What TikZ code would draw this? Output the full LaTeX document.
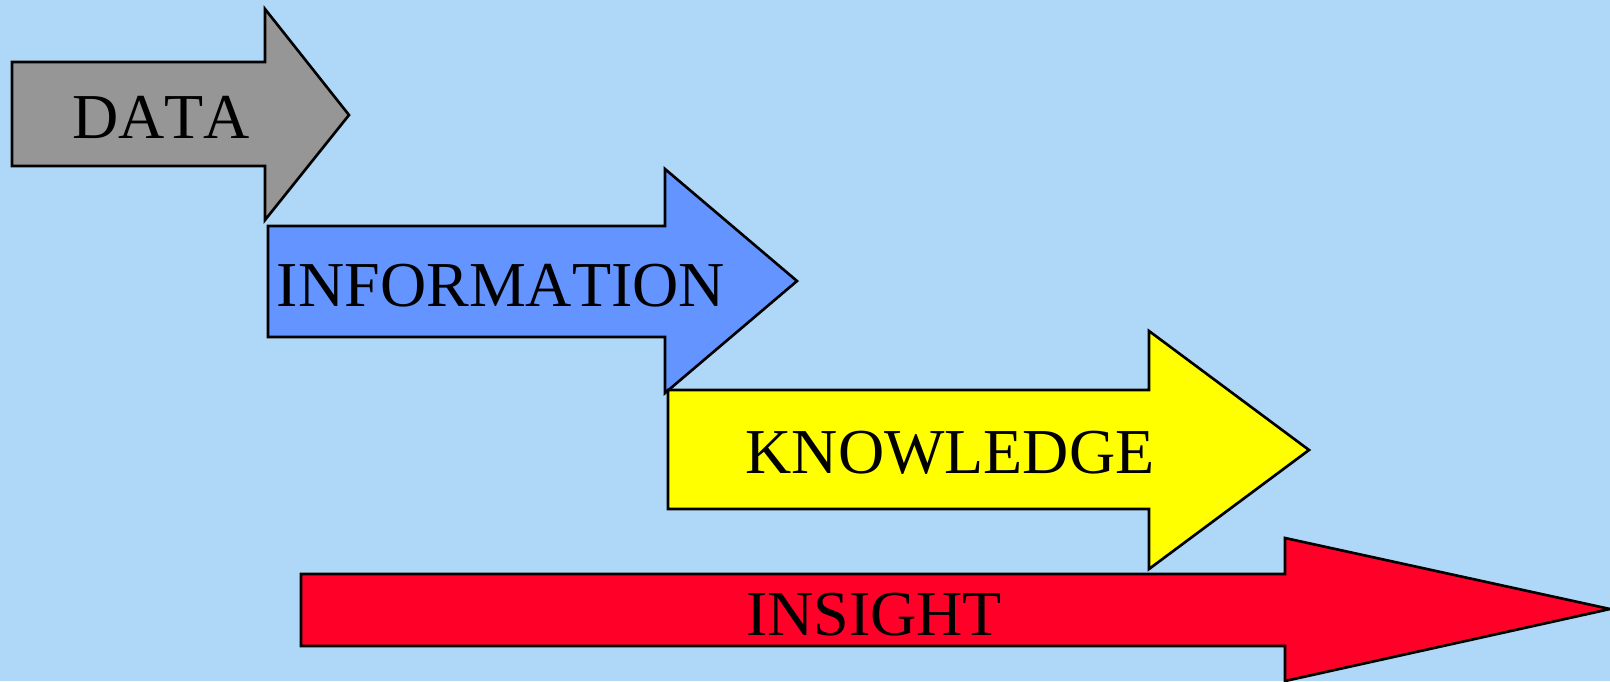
\documentclass[tikz,border=0pt]{standalone}
\usepackage{fontspec}
\setmainfont{Liberation Serif}[Kerning=Off]
\definecolor{skyback}{HTML}{AFD7F7}
\definecolor{datagray}{HTML}{969696}
\definecolor{infoblue}{HTML}{6494FF}
\definecolor{knowyellow}{HTML}{FFFF00}
\definecolor{insightred}{HTML}{FF0029}
\tikzset{
  shaft/.style={draw=black,line width=0.75pt,line join=miter},
  word/.style={anchor=base,inner sep=0pt,font=\fontsize{18.2}{20}\selectfont}
}
\begin{document}
\begin{tikzpicture}[x=0.01cm,y=-0.01cm]
\fill[skyback] (0,0) rectangle (1610,681);
\useasboundingbox (0,0) rectangle (1610,681);
% data
\draw[shaft,fill=datagray]
(12,62) -- (265,62) -- (265,9) -- (349,115) -- (265,220) -- (265,166) -- (12,166) -- cycle;
\node[word] (data) at (161,138) {DATA};
% information
\draw[shaft,fill=infoblue]
(268,226) -- (665,226) -- (665,169) -- (797,281) -- (665,393) -- (665,337) -- (268,337) -- cycle;
\node[word] (info) at (501,306) {INFORMATION};
% knowledge
\draw[shaft,fill=knowyellow]
(668,390) -- (1149,390) -- (1149,331) -- (1309,450) -- (1149,569) -- (1149,509) -- (668,509) -- cycle;
\node[word] (know) at (950,473) {KNOWLEDGE};
% insight
\draw[shaft,fill=insightred]
(301,574) -- (1285,574) -- (1285,538) -- (1610,609) -- (1285,681) -- (1285,646) -- (301,646) -- cycle;
\node[word] (insight) at (874,635) {INSIGHT};
\end{tikzpicture}
\end{document}
